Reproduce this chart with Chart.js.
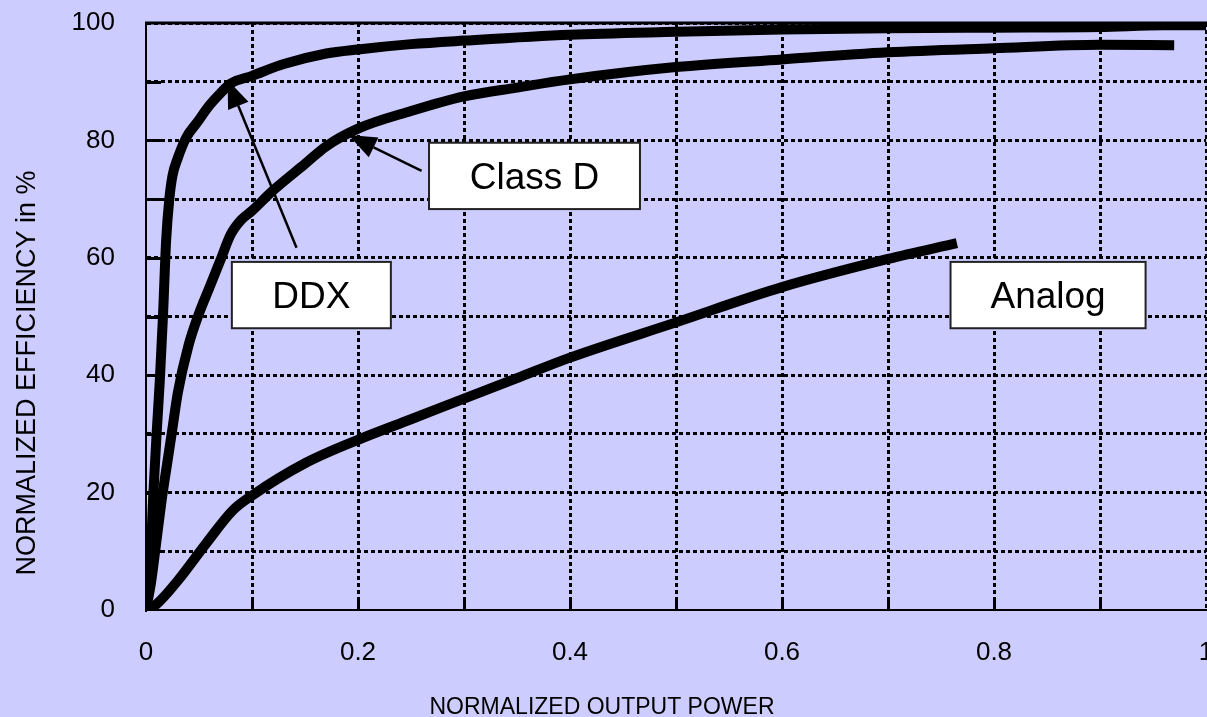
<!DOCTYPE html>
<html>
<head>
<meta charset="utf-8">
<title>Normalized efficiency vs output power</title>
<script src="https://cdn.jsdelivr.net/npm/chart.js@4.4.1/dist/chart.umd.min.js"></script>
<style>
  html, body { margin: 0; padding: 0; background: #ccccff; overflow: hidden; }
  canvas { display: block; }
</style>
</head>
<body>
<canvas id="efficiency-chart" width="1207" height="717"></canvas>
<script>
// Curves (x = normalized output power, y = efficiency %)
const ddxPower = [0, 0.004, 0.007, 0.01, 0.013, 0.016, 0.019, 0.022, 0.025, 0.03, 0.038, 0.048, 0.06, 0.07, 0.08, 0.1, 0.13, 0.17, 0.2, 0.25, 0.3, 0.4, 0.5, 0.6, 0.7, 0.8, 0.9, 0.96, 1.0];
const ddxEff = [0, 8, 20, 30, 39, 50, 63, 70, 74, 77, 80.5, 83, 86, 88, 89.7, 91, 93, 94.8, 95.5, 96.4, 97, 98, 98.5, 98.9, 99.1, 99.2, 99.3, 99.6, 99.6];

const classDPower = [0, 0.005, 0.01, 0.015, 0.02, 0.025, 0.03, 0.04, 0.05, 0.06, 0.07, 0.08, 0.09, 0.1, 0.12, 0.15, 0.17, 0.2, 0.25, 0.3, 0.35, 0.4, 0.5, 0.6, 0.7, 0.8, 0.9, 0.97];
const classDEff = [0, 5, 12, 19, 25, 31, 37, 45, 50.5, 55, 59.5, 64, 66.5, 68, 71.5, 76, 79, 82, 85, 87.5, 89, 90.4, 92.5, 93.8, 95, 95.7, 96.3, 96.2];

const analogPower = [0, 0.01, 0.03, 0.057, 0.082, 0.1, 0.15, 0.2, 0.25, 0.3, 0.35, 0.4, 0.5, 0.6, 0.7, 0.765];
const analogEff = [0, 1, 5, 11.4, 17, 19.5, 25, 29, 32.5, 36, 39.5, 43, 49, 55, 59.8, 62.5];

// Callout boxes, in data units
const noteLabels = ['DDX', 'Class D', 'Analog'];
const noteLeft = [0.081, 0.267, 0.759];
const noteRight = [0.231, 0.466, 0.943];
const noteTop = [59.3, 79.6, 59.3];
const noteBottom = [48.0, 68.3, 48.0];

// Arrows from the callouts to the curves, in data units
const arrowFromX = [0.142, 0.260];
const arrowFromY = [61.7, 74.8];
const arrowToX = [0.077, 0.191];
const arrowToY = [90.3, 80.9];

const FONT = '"Liberation Sans", Arial, sans-serif';

const toPoints = (xs, ys) => xs.map((x, i) => ({ x, y: ys[i] }));

const curve = (label, xs, ys) => ({
  label,
  data: toPoints(xs, ys),
  borderColor: '#000',
  borderWidth: 10,
  borderCapStyle: 'butt',
  pointRadius: 0,
  cubicInterpolationMode: 'monotone',
  fill: false,
});

// hide the dotted grid line where it sits on a solid axis line
const gridColor = (c) => (c.tick && (c.tick.value === 0) ? 'rgba(0,0,0,0)' : '#000');

const drawArrow = (ctx, x0, y0, x1, y1) => {
  const ang = Math.atan2(y1 - y0, x1 - x0);
  const headLen = 28;
  const headHalf = 11;
  const bx = x1 - headLen * Math.cos(ang);
  const by = y1 - headLen * Math.sin(ang);
  ctx.beginPath();
  ctx.moveTo(x0, y0);
  ctx.lineTo(bx, by);
  ctx.lineWidth = 2.5;
  ctx.strokeStyle = '#000';
  ctx.stroke();
  ctx.beginPath();
  ctx.moveTo(x1, y1);
  ctx.lineTo(bx + headHalf * Math.sin(ang), by - headHalf * Math.cos(ang));
  ctx.lineTo(bx - headHalf * Math.sin(ang), by + headHalf * Math.cos(ang));
  ctx.closePath();
  ctx.fillStyle = '#000';
  ctx.fill();
};

const decor = {
  id: 'decor',
  beforeDraw(c) {
    const { ctx } = c;
    ctx.save();
    ctx.fillStyle = '#ccccff';
    ctx.fillRect(0, 0, c.width, c.height);
    ctx.restore();
  },
  afterDraw(c) {
    const { ctx, chartArea: a } = c;
    const sx = c.scales.x;
    const sy = c.scales.y;
    ctx.save();
    // top frame line
    ctx.strokeStyle = '#000';
    ctx.lineWidth = 3;
    ctx.beginPath();
    ctx.moveTo(a.left - 1, a.top);
    ctx.lineTo(c.width, a.top);
    ctx.stroke();
    // short inward ticks on the left axis
    ctx.lineWidth = 3;
    for (let v = 10; v < 100; v += 10) {
      const y = Math.round(sy.getPixelForValue(v)) + 0.5;
      ctx.beginPath();
      ctx.moveTo(a.left, y);
      ctx.lineTo(a.left + 15, y);
      ctx.stroke();
    }
    // short upward ticks on the bottom axis
    for (let k = 1; k < 10; k += 1) {
      const x = Math.round(sx.getPixelForValue(k / 10)) + 0.5;
      ctx.beginPath();
      ctx.moveTo(x, a.bottom);
      ctx.lineTo(x, a.bottom - 10);
      ctx.stroke();
    }
    // arrows
    arrowFromX.forEach((_, i) => {
      drawArrow(ctx,
        sx.getPixelForValue(arrowFromX[i]), sy.getPixelForValue(arrowFromY[i]),
        sx.getPixelForValue(arrowToX[i]), sy.getPixelForValue(arrowToY[i]));
    });
    // callout boxes
    noteLabels.forEach((text, i) => {
      const l = sx.getPixelForValue(noteLeft[i]);
      const r = sx.getPixelForValue(noteRight[i]);
      const t = sy.getPixelForValue(noteTop[i]);
      const b = sy.getPixelForValue(noteBottom[i]);
      ctx.fillStyle = '#fff';
      ctx.fillRect(l, t, r - l, b - t);
      ctx.strokeStyle = '#222';
      ctx.lineWidth = 2;
      ctx.strokeRect(l, t, r - l, b - t);
      ctx.fillStyle = '#000';
      ctx.font = `37px ${FONT}`;
      ctx.textAlign = 'center';
      ctx.textBaseline = 'alphabetic';
      ctx.fillText(text, (l + r) / 2, (t + b) / 2 + 13);
    });
    // axis titles
    ctx.fillStyle = '#000';
    ctx.font = `23px ${FONT}`;
    ctx.textAlign = 'center';
    ctx.fillText('NORMALIZED OUTPUT POWER', 602, 714);
    ctx.translate(35, 373);
    ctx.rotate(-Math.PI / 2);
    ctx.font = `27px ${FONT}`;
    ctx.fillText('NORMALIZED EFFICIENCY in %', 0, 0);
    ctx.restore();
  },
};

const ctx = document.getElementById('efficiency-chart');
// eslint-disable-next-line no-unused-vars
const chart = new Chart(ctx, {
  type: 'line',
  data: {
    datasets: [
      curve('DDX', ddxPower, ddxEff),
      curve('Class D', classDPower, classDEff),
      curve('Analog', analogPower, analogEff),
    ],
  },
  options: {
    responsive: false,
    devicePixelRatio: 1,
    animation: false,
    events: [],
    layout: {
      padding: { top: 23, right: 1, left: 0, bottom: 0 },
    },
    plugins: {
      legend: { display: false },
      tooltip: { enabled: false },
    },
    scales: {
      x: {
        type: 'linear',
        min: 0,
        max: 1,
        grid: { color: gridColor, lineWidth: 3, drawTicks: false },
        border: { display: true, color: '#000', width: 2, dash: [4, 3] },
        ticks: {
          stepSize: 0.1,
          autoSkip: false,
          maxRotation: 0,
          padding: 27,
          color: '#000',
          font: { family: FONT, size: 26 },
          callback: (v) => {
            const k = Math.round(v * 10);
            return k % 2 === 0 ? String(k / 10) : '';
          },
        },
        afterFit: (s) => {
          s.height = 107;
          s.paddingLeft = 0;
          s.paddingRight = 0;
        },
      },
      y: {
        min: 0,
        max: 100,
        grid: { color: gridColor, lineWidth: 3, drawTicks: false },
        border: { display: true, color: '#000', width: 2, dash: [4, 3] },
        ticks: {
          stepSize: 10,
          autoSkip: false,
          padding: 31,
          color: '#000',
          font: { family: FONT, size: 26 },
          callback: (v) => (v % 20 === 0 ? v : ''),
        },
        afterFit: (s) => {
          s.width = 146;
          s.paddingTop = 0;
          s.paddingBottom = 0;
        },
      },
    },
  },
  plugins: [decor],
});
</script>
</body>
</html>
